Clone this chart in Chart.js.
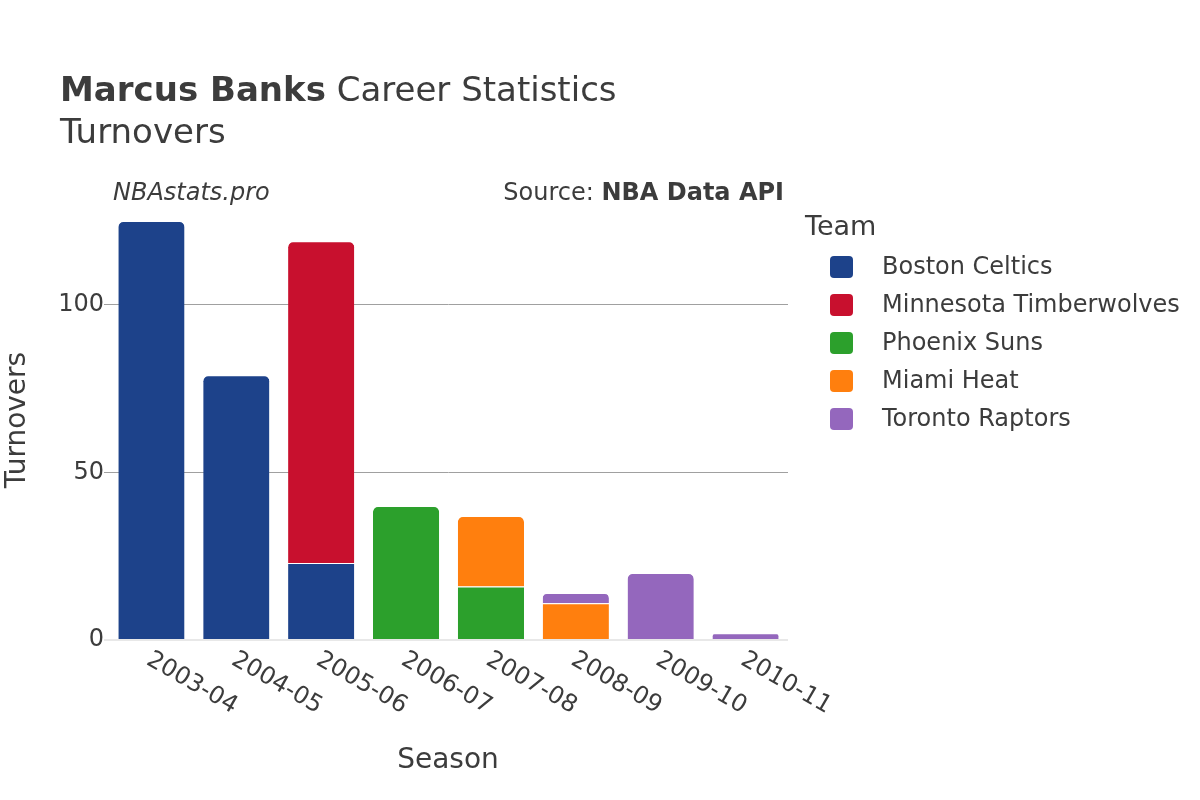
<!DOCTYPE html>
<html>
<head>
<meta charset="utf-8">
<script src="https://cdn.jsdelivr.net/npm/chart.js@4.4.0/dist/chart.umd.min.js"></script>
<style>
  html, body { margin: 0; padding: 0; background: #fff; }
  #wrap { width: 1200px; height: 800px; }
</style>
</head>
<body>
<div id="wrap"><canvas id="chart" width="1200" height="800"></canvas></div>
<script>
const seasons = ["2003-04", "2004-05", "2005-06", "2006-07", "2007-08", "2008-09", "2009-10", "2010-11"];
const teams = ["Boston Celtics", "Minnesota Timberwolves", "Phoenix Suns", "Miami Heat", "Toronto Raptors"];
const teamColors = ["#1d428a", "#c8102e", "#2ca02c", "#ff7f0e", "#9467bd"];
const bostonTov = [125, 79, 23, null, null, null, null, null];
const minnesotaTov = [null, null, 96, null, null, null, null, null];
const phoenixTov = [null, null, null, 40, 16, null, null, null];
const miamiTov = [null, null, null, null, 21, 11, null, null];
const torontoTov = [null, null, null, null, null, 3, 20, 2];
const yTicks = [0, 50, 100];

const FONT = "'DejaVu Sans', sans-serif";
const TEXT = "#3c3c3c";

const seriesValues = [bostonTov, minnesotaTov, phoenixTov, miamiTov, torontoTov];

// titles, source line, rotated season labels and the legend
const decorations = {
  id: "decorations",
  afterDraw(chart) {
    const ctx = chart.ctx;
    const xs = chart.scales.x;
    const area = chart.chartArea;
    ctx.save();
    ctx.fillStyle = TEXT;
    ctx.textBaseline = "alphabetic";

    ctx.textAlign = "left";
    ctx.font = "bold 34px " + FONT;
    ctx.fillText("Marcus Banks", 60, 101);
    let w = ctx.measureText("Marcus Banks").width;
    ctx.font = "34px " + FONT;
    ctx.fillText(" Career Statistics", 60 + w, 101);
    ctx.fillText("Turnovers", 60, 143);

    ctx.font = "italic 24px " + FONT;
    ctx.fillText("NBAstats.pro", 113, 200);

    ctx.textAlign = "right";
    ctx.font = "bold 24px " + FONT;
    ctx.fillText("NBA Data API", 784, 200);
    w = ctx.measureText("NBA Data API").width;
    ctx.font = "24px " + FONT;
    ctx.fillText("Source: ", 784 - w, 200);

    // season tick labels, going down to the right
    ctx.font = "24px " + FONT;
    ctx.textAlign = "left";
    ctx.textBaseline = "middle";
    seasons.forEach((s, i) => {
      const px = xs.getPixelForValue(i);
      ctx.save();
      ctx.translate(px - 3, area.bottom + 18);
      ctx.rotate(Math.PI / 6);
      ctx.fillText(s, 0, 0);
      ctx.restore();
    });

    // axis titles
    ctx.font = "28px " + FONT;
    ctx.textAlign = "center";
    ctx.fillText("Season", 448, 761);
    ctx.save();
    ctx.translate(18, 420);
    ctx.rotate(-Math.PI / 2);
    ctx.fillText("Turnovers", 0, 0);
    ctx.restore();

    // legend
    ctx.textAlign = "left";
    ctx.font = "27px " + FONT;
    ctx.fillText("Team", 805, 228);
    ctx.font = "24px " + FONT;
    chart.data.datasets.forEach((ds, i) => {
      const cy = 267 + i * 38;
      ctx.fillStyle = ds.backgroundColor;
      ctx.beginPath();
      ctx.roundRect(830, cy - 11, 23, 22, 4);
      ctx.fill();
      ctx.fillStyle = TEXT;
      ctx.fillText(ds.label, 882, cy + 1);
    });
    ctx.restore();
  }
};

new Chart(document.getElementById("chart"), {
  type: "bar",
  data: {
    labels: seasons,
    datasets: teams.map((t, i) => ({
      label: t,
      data: seriesValues[i],
      backgroundColor: teamColors[i],
      borderColor: "#ffffff",
      borderWidth: { top: 1, left: 0, right: 0, bottom: 0 },
      borderRadius: 6,
      borderSkipped: "start",
      barPercentage: 0.78,
      categoryPercentage: 1.0,
    })),
  },
  options: {
    responsive: false,
    animation: false,
    layout: { padding: { top: 199, left: 0, right: 412, bottom: 160 } },
    plugins: {
      legend: { display: false },
      tooltip: { enabled: false },
    },
    scales: {
      x: {
        stacked: true,
        grid: { display: false, drawTicks: false },
        border: { display: false },
        ticks: { display: false },
      },
      y: {
        stacked: true,
        min: 0,
        max: 131.6,
        afterFit: (scale) => { scale.width = 109; },
        border: { display: false },
        grid: {
          tickLength: 5,
          color: (c) => (c.tick && c.tick.value === 0 ? "#e8e8e8" : "#a0a0a0"),
          lineWidth: (c) => (c.tick && c.tick.value === 0 ? 2 : 1),
        },
        afterBuildTicks: (scale) => {
          scale.ticks = yTicks.map((v) => ({ value: v }));
        },
        ticks: {
          padding: 0,
          color: TEXT,
          font: { family: FONT, size: 24 },
        },
      },
    },
  },
  plugins: [decorations],
});
</script>
</body>
</html>
